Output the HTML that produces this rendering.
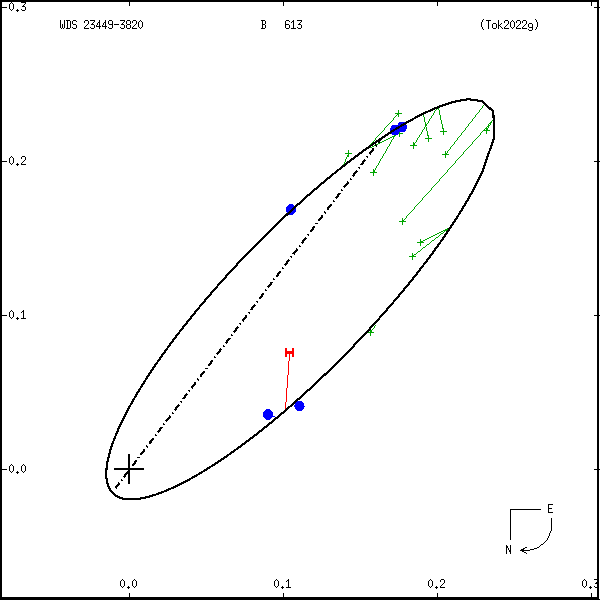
<!DOCTYPE html><html><head><meta charset="utf-8"><title>orbit</title><style>html,body{margin:0;padding:0;background:#fff;font-family:"Liberation Sans",sans-serif}svg{display:block}</style></head><body>
<svg width="600" height="600" viewBox="0 0 600 600" shape-rendering="crispEdges">
<rect width="600" height="600" fill="#fff"/>
<path d="M484 104h1v1h-1zM483 105h1v1h-1zM482 106h1v1h-1zM437 107h2v1h-2zM482 107h1v1h-1zM436 108h1v1h-1zM438 108h1v1h-1zM481 108h1v1h-1zM436 109h1v1h-1zM438 109h1v1h-1zM480 109h1v1h-1zM398 110h1v1h-1zM435 110h1v1h-1zM439 110h1v1h-1zM479 110h1v1h-1zM398 111h1v1h-1zM434 111h1v1h-1zM439 111h1v1h-1zM479 111h1v1h-1zM398 112h1v1h-1zM434 112h1v1h-1zM439 112h1v1h-1zM478 112h1v1h-1zM395 113h7v1h-7zM433 113h1v1h-1zM439 113h1v1h-1zM477 113h1v1h-1zM397 114h2v1h-2zM423 114h1v1h-1zM433 114h1v1h-1zM439 114h1v1h-1zM476 114h1v1h-1zM396 115h1v1h-1zM398 115h1v1h-1zM423 115h1v1h-1zM432 115h1v1h-1zM440 115h1v1h-1zM475 115h1v1h-1zM395 116h1v1h-1zM398 116h1v1h-1zM423 116h1v1h-1zM431 116h1v1h-1zM440 116h1v1h-1zM475 116h1v1h-1zM394 117h1v1h-1zM424 117h1v1h-1zM431 117h1v1h-1zM440 117h1v1h-1zM474 117h1v1h-1zM393 118h1v1h-1zM424 118h1v1h-1zM430 118h1v1h-1zM440 118h1v1h-1zM473 118h1v1h-1zM393 119h1v1h-1zM424 119h1v1h-1zM429 119h1v1h-1zM440 119h1v1h-1zM472 119h1v1h-1zM392 120h1v1h-1zM424 120h1v1h-1zM429 120h1v1h-1zM441 120h1v1h-1zM472 120h1v1h-1zM492 120h1v1h-1zM391 121h1v1h-1zM424 121h1v1h-1zM428 121h1v1h-1zM441 121h1v1h-1zM471 121h1v1h-1zM491 121h1v1h-1zM390 122h1v1h-1zM425 122h1v1h-1zM428 122h1v1h-1zM441 122h1v1h-1zM470 122h1v1h-1zM490 122h2v1h-2zM389 123h1v1h-1zM425 123h1v1h-1zM427 123h1v1h-1zM441 123h1v1h-1zM469 123h1v1h-1zM489 123h2v1h-2zM388 124h1v1h-1zM425 124h2v1h-2zM442 124h1v1h-1zM468 124h1v1h-1zM488 124h1v1h-1zM490 124h1v1h-1zM387 125h1v1h-1zM425 125h2v1h-2zM442 125h1v1h-1zM468 125h1v1h-1zM488 125h2v1h-2zM386 126h1v1h-1zM425 126h1v1h-1zM442 126h1v1h-1zM467 126h1v1h-1zM487 126h2v1h-2zM385 127h1v1h-1zM424 127h1v1h-1zM426 127h1v1h-1zM442 127h1v1h-1zM466 127h1v1h-1zM486 127h1v1h-1zM488 127h1v1h-1zM384 128h1v1h-1zM424 128h1v1h-1zM426 128h1v1h-1zM442 128h2v1h-2zM465 128h1v1h-1zM485 128h3v1h-3zM384 129h1v1h-1zM423 129h1v1h-1zM426 129h1v1h-1zM443 129h1v1h-1zM465 129h1v1h-1zM484 129h1v1h-1zM486 129h2v1h-2zM383 130h1v1h-1zM399 130h1v1h-1zM422 130h1v1h-1zM426 130h1v1h-1zM443 130h1v1h-1zM464 130h1v1h-1zM483 130h7v1h-7zM382 131h1v1h-1zM399 131h1v1h-1zM422 131h1v1h-1zM427 131h1v1h-1zM440 131h7v1h-7zM463 131h1v1h-1zM482 131h1v1h-1zM486 131h1v1h-1zM381 132h1v1h-1zM396 132h1v1h-1zM399 132h1v1h-1zM421 132h1v1h-1zM427 132h1v1h-1zM443 132h1v1h-1zM462 132h1v1h-1zM481 132h1v1h-1zM486 132h1v1h-1zM380 133h1v1h-1zM395 133h8v1h-8zM421 133h1v1h-1zM427 133h1v1h-1zM443 133h1v1h-1zM461 133h1v1h-1zM480 133h1v1h-1zM486 133h1v1h-1zM379 134h1v1h-1zM395 134h3v1h-3zM399 134h1v1h-1zM420 134h1v1h-1zM427 134h1v1h-1zM443 134h1v1h-1zM461 134h1v1h-1zM480 134h1v1h-1zM378 135h1v1h-1zM394 135h2v1h-2zM399 135h1v1h-1zM419 135h1v1h-1zM427 135h2v1h-2zM460 135h1v1h-1zM479 135h1v1h-1zM377 136h1v1h-1zM392 136h3v1h-3zM399 136h1v1h-1zM419 136h1v1h-1zM428 136h1v1h-1zM459 136h1v1h-1zM478 136h1v1h-1zM376 137h1v1h-1zM390 137h2v1h-2zM393 137h1v1h-1zM418 137h1v1h-1zM428 137h1v1h-1zM458 137h1v1h-1zM477 137h1v1h-1zM375 138h1v1h-1zM388 138h2v1h-2zM393 138h1v1h-1zM417 138h1v1h-1zM425 138h7v1h-7zM457 138h1v1h-1zM476 138h1v1h-1zM375 139h1v1h-1zM386 139h2v1h-2zM392 139h1v1h-1zM417 139h1v1h-1zM428 139h1v1h-1zM457 139h1v1h-1zM475 139h1v1h-1zM374 140h1v1h-1zM384 140h2v1h-2zM391 140h1v1h-1zM416 140h1v1h-1zM428 140h1v1h-1zM456 140h1v1h-1zM474 140h1v1h-1zM373 141h1v1h-1zM382 141h2v1h-2zM391 141h1v1h-1zM416 141h1v1h-1zM428 141h1v1h-1zM455 141h1v1h-1zM473 141h1v1h-1zM372 142h1v1h-1zM380 142h2v1h-2zM390 142h1v1h-1zM413 142h1v1h-1zM415 142h1v1h-1zM454 142h1v1h-1zM472 142h1v1h-1zM371 143h1v1h-1zM378 143h2v1h-2zM390 143h1v1h-1zM413 143h2v1h-2zM454 143h1v1h-1zM472 143h1v1h-1zM370 144h1v1h-1zM376 144h2v1h-2zM389 144h1v1h-1zM413 144h2v1h-2zM453 144h1v1h-1zM471 144h1v1h-1zM374 145h2v1h-2zM389 145h1v1h-1zM410 145h7v1h-7zM452 145h1v1h-1zM470 145h1v1h-1zM372 146h2v1h-2zM388 146h1v1h-1zM413 146h1v1h-1zM451 146h1v1h-1zM469 146h1v1h-1zM370 147h2v1h-2zM387 147h1v1h-1zM413 147h1v1h-1zM450 147h1v1h-1zM468 147h1v1h-1zM387 148h1v1h-1zM413 148h1v1h-1zM450 148h1v1h-1zM467 148h1v1h-1zM386 149h1v1h-1zM449 149h1v1h-1zM466 149h1v1h-1zM348 150h1v1h-1zM386 150h1v1h-1zM448 150h1v1h-1zM465 150h1v1h-1zM348 151h1v1h-1zM385 151h1v1h-1zM445 151h1v1h-1zM447 151h1v1h-1zM464 151h1v1h-1zM348 152h1v1h-1zM385 152h1v1h-1zM445 152h1v1h-1zM447 152h1v1h-1zM463 152h1v1h-1zM345 153h7v1h-7zM384 153h1v1h-1zM445 153h2v1h-2zM463 153h1v1h-1zM348 154h1v1h-1zM383 154h1v1h-1zM442 154h7v1h-7zM462 154h1v1h-1zM347 155h2v1h-2zM383 155h1v1h-1zM445 155h1v1h-1zM461 155h1v1h-1zM347 156h2v1h-2zM382 156h1v1h-1zM445 156h1v1h-1zM460 156h1v1h-1zM346 157h1v1h-1zM382 157h1v1h-1zM445 157h1v1h-1zM459 157h1v1h-1zM346 158h1v1h-1zM381 158h1v1h-1zM458 158h1v1h-1zM345 159h1v1h-1zM380 159h1v1h-1zM457 159h1v1h-1zM345 160h1v1h-1zM380 160h1v1h-1zM456 160h1v1h-1zM345 161h1v1h-1zM379 161h1v1h-1zM455 161h1v1h-1zM344 162h1v1h-1zM379 162h1v1h-1zM455 162h1v1h-1zM344 163h1v1h-1zM378 163h1v1h-1zM454 163h1v1h-1zM343 164h1v1h-1zM378 164h1v1h-1zM453 164h1v1h-1zM343 165h1v1h-1zM377 165h1v1h-1zM452 165h1v1h-1zM376 166h1v1h-1zM451 166h1v1h-1zM376 167h1v1h-1zM450 167h1v1h-1zM375 168h1v1h-1zM449 168h1v1h-1zM373 169h1v1h-1zM375 169h1v1h-1zM448 169h1v1h-1zM373 170h2v1h-2zM447 170h1v1h-1zM373 171h2v1h-2zM447 171h1v1h-1zM370 172h7v1h-7zM446 172h1v1h-1zM373 173h1v1h-1zM445 173h1v1h-1zM373 174h1v1h-1zM444 174h1v1h-1zM373 175h1v1h-1zM443 175h1v1h-1zM442 176h1v1h-1zM441 177h1v1h-1zM440 178h1v1h-1zM439 179h1v1h-1zM439 180h1v1h-1zM438 181h1v1h-1zM437 182h1v1h-1zM436 183h1v1h-1zM435 184h1v1h-1zM434 185h1v1h-1zM433 186h1v1h-1zM432 187h1v1h-1zM431 188h1v1h-1zM431 189h1v1h-1zM430 190h1v1h-1zM429 191h1v1h-1zM428 192h1v1h-1zM427 193h1v1h-1zM426 194h1v1h-1zM425 195h1v1h-1zM424 196h1v1h-1zM423 197h1v1h-1zM422 198h1v1h-1zM422 199h1v1h-1zM421 200h1v1h-1zM420 201h1v1h-1zM419 202h1v1h-1zM418 203h1v1h-1zM417 204h1v1h-1zM416 205h1v1h-1zM415 206h1v1h-1zM414 207h1v1h-1zM414 208h1v1h-1zM413 209h1v1h-1zM412 210h1v1h-1zM411 211h1v1h-1zM410 212h1v1h-1zM409 213h1v1h-1zM408 214h1v1h-1zM407 215h1v1h-1zM406 216h1v1h-1zM406 217h1v1h-1zM402 218h1v1h-1zM405 218h1v1h-1zM402 219h1v1h-1zM404 219h1v1h-1zM402 220h2v1h-2zM399 221h7v1h-7zM402 222h1v1h-1zM402 223h1v1h-1zM402 224h1v1h-1zM447 228h2v1h-2zM445 229h3v1h-3zM443 230h4v1h-4zM441 231h2v1h-2zM444 231h1v1h-1zM439 232h2v1h-2zM443 232h1v1h-1zM437 233h2v1h-2zM441 233h2v1h-2zM435 234h2v1h-2zM440 234h1v1h-1zM433 235h2v1h-2zM439 235h1v1h-1zM431 236h2v1h-2zM438 236h1v1h-1zM429 237h2v1h-2zM436 237h2v1h-2zM427 238h2v1h-2zM435 238h1v1h-1zM420 239h1v1h-1zM425 239h2v1h-2zM434 239h1v1h-1zM420 240h1v1h-1zM423 240h2v1h-2zM432 240h2v1h-2zM420 241h3v1h-3zM431 241h1v1h-1zM417 242h7v1h-7zM430 242h1v1h-1zM420 243h1v1h-1zM429 243h1v1h-1zM420 244h1v1h-1zM427 244h2v1h-2zM420 245h1v1h-1zM426 245h1v1h-1zM425 246h1v1h-1zM423 247h2v1h-2zM422 248h1v1h-1zM421 249h1v1h-1zM420 250h1v1h-1zM418 251h2v1h-2zM417 252h1v1h-1zM412 253h1v1h-1zM416 253h1v1h-1zM412 254h1v1h-1zM414 254h2v1h-2zM412 255h2v1h-2zM409 256h7v1h-7zM412 257h1v1h-1zM412 258h1v1h-1zM412 259h1v1h-1zM375 325h1v1h-1zM374 326h1v1h-1zM374 327h1v1h-1zM373 328h1v1h-1zM370 329h1v1h-1zM372 329h1v1h-1zM370 330h2v1h-2zM370 331h2v1h-2zM367 332h7v1h-7zM370 333h1v1h-1zM370 334h1v1h-1zM370 335h1v1h-1z" fill="#00a500"/>
<path d="M289 354h1v1h-1zM289 355h1v1h-1zM289 356h1v1h-1zM289 357h1v1h-1zM289 358h1v1h-1zM289 359h1v1h-1zM289 360h1v1h-1zM288 361h1v1h-1zM288 362h1v1h-1zM288 363h1v1h-1zM288 364h1v1h-1zM288 365h1v1h-1zM288 366h1v1h-1zM288 367h1v1h-1zM288 368h1v1h-1zM288 369h1v1h-1zM288 370h1v1h-1zM288 371h1v1h-1zM288 372h1v1h-1zM288 373h1v1h-1zM288 374h1v1h-1zM287 375h1v1h-1zM287 376h1v1h-1zM287 377h1v1h-1zM287 378h1v1h-1zM287 379h1v1h-1zM287 380h1v1h-1zM287 381h1v1h-1zM287 382h1v1h-1zM287 383h1v1h-1zM287 384h1v1h-1zM287 385h1v1h-1zM287 386h1v1h-1zM287 387h1v1h-1zM286 388h1v1h-1zM286 389h1v1h-1zM286 390h1v1h-1zM286 391h1v1h-1zM286 392h1v1h-1zM286 393h1v1h-1zM286 394h1v1h-1zM286 395h1v1h-1zM286 396h1v1h-1zM286 397h1v1h-1zM286 398h1v1h-1zM286 399h1v1h-1zM286 400h1v1h-1zM286 401h1v1h-1zM285 402h1v1h-1zM285 403h1v1h-1zM285 404h1v1h-1zM285 405h1v1h-1zM285 406h1v1h-1zM285 407h1v1h-1zM285 408h1v1h-1z" fill="#f00"/>
<path d="M285 348h2v9h-2zM292 348h2v9h-2zM287 351h5v3h-5z" fill="#f00"/>
<ellipse cx="291" cy="209.5" rx="5.1" ry="5.45" fill="#00f"/>
<ellipse cx="268" cy="414.5" rx="5.1" ry="5.45" fill="#00f"/>
<ellipse cx="299.5" cy="406" rx="5.1" ry="5.45" fill="#00f"/>
<ellipse cx="395" cy="130" rx="5.1" ry="5.45" fill="#00f"/>
<ellipse cx="402" cy="127" rx="5.1" ry="5.45" fill="#00f"/>
<path d="M273 416h2v1h-2z" fill="#00f"/>
<path d="M482.50 171.36L477.27 182.26L471.32 193.47L464.75 204.91L457.65 216.47L450.10 228.08L442.18 239.64L433.98 251.09L425.57 262.37L417.02 273.42L408.39 284.21L399.73 294.70L391.09 304.85L382.52 314.66L374.06 324.10L365.72 333.17L357.54 341.85L349.54 350.16L341.73 358.10L334.12 365.66L326.73 372.86L319.56 379.71L312.62 386.22L305.89 392.39L299.40 398.25L293.13 403.80L287.07 409.07L281.24 414.05L275.61 418.77L270.20 423.24L264.98 427.46L259.96 431.46L255.13 435.24L250.47 438.82L246.00 442.21L241.69 445.41L237.55 448.44L233.56 451.31L229.72 454.02L226.03 456.58L222.47 459.01L219.05 461.31L215.75 463.48L212.58 465.54L209.52 467.48L206.57 469.33L203.73 471.07L200.99 472.73L198.34 474.29L195.79 475.77L193.33 477.17L190.96 478.50L188.67 479.76L186.45 480.95L184.31 482.08L182.24 483.15L180.25 484.16L178.31 485.12L176.44 486.03L174.63 486.89L172.88 487.70L171.19 488.47L169.54 489.20L167.95 489.89L166.41 490.55L164.92 491.16L163.47 491.75L162.06 492.30L160.70 492.82L159.37 493.31L158.09 493.78L156.84 494.21L155.63 494.63L154.45 495.02L153.30 495.38L152.19 495.72L151.11 496.05L150.05 496.35L149.03 496.64L148.03 496.90L147.06 497.15L146.12 497.38L145.19 497.60L144.30 497.80L143.42 497.98L142.57 498.15L141.74 498.31L140.93 498.46L140.14 498.59L139.37 498.71L138.62 498.82L137.89 498.92L137.17 499.01L136.47 499.09L135.79 499.16L135.12 499.22L134.47 499.26L133.83 499.31L133.21 499.34L132.60 499.36L132.01 499.38L131.42 499.39L130.86 499.39L130.30 499.39L129.76 499.37L129.22 499.36L128.70 499.33L128.19 499.30L127.69 499.26L127.20 499.22L126.72 499.17L126.25 499.12L125.79 499.06L125.34 499.00L124.90 498.93L124.47 498.85L124.04 498.77L123.63 498.69L123.22 498.60L122.82 498.51L122.43 498.41L122.05 498.31L121.67 498.21L121.30 498.10L120.94 497.99L120.58 497.87L120.23 497.75L119.89 497.62L119.56 497.50L119.23 497.37L118.90 497.23L118.58 497.09L118.27 496.95L117.97 496.81L117.67 496.66L117.37 496.51L117.08 496.35L116.80 496.20L116.52 496.04L116.24 495.87L115.97 495.71L115.71 495.54L115.45 495.36L115.19 495.19L114.94 495.01L114.70 494.83L114.46 494.65L114.22 494.46L113.99 494.27L113.76 494.08L113.53 493.88L113.31 493.68L113.10 493.48L112.88 493.28L112.68 493.07L112.47 492.86L112.27 492.65L112.07 492.43L111.88 492.22L111.69 492.00L111.50 491.77L111.32 491.55L111.14 491.32L110.96 491.08L110.79 490.85L110.62 490.61L110.46 490.37L110.29 490.13L110.13 489.88L109.98 489.63L109.83 489.38L109.68 489.12L109.53 488.86L109.39 488.60L109.25 488.33L109.11 488.06L108.98 487.79L108.85 487.52L108.72 487.24L108.60 486.96L108.47 486.67L108.36 486.38L108.24 486.09L108.13 485.80L108.02 485.50L107.91 485.19L107.81 484.89L107.71 484.58L107.62 484.26L107.52 483.95L107.43 483.62L107.34 483.30L107.26 482.97L107.18 482.63L107.10 482.30L107.03 481.95L106.96 481.61L106.89 481.25L106.82 480.90L106.76 480.54L106.70 480.17L106.65 479.80L106.60 479.43L106.55 479.05L106.50 478.66L106.46 478.27L106.43 477.87L106.39 477.47L106.36 477.07L106.34 476.65L106.31 476.24L106.29 475.81L106.28 475.38L106.27 474.94L106.26 474.50L106.26 474.05L106.26 473.59L106.27 473.13L106.28 472.66L106.29 472.18L106.31 471.70L106.33 471.21L106.36 470.71L106.40 470.20L106.43 469.69L106.48 469.16L106.53 468.63L106.58 468.09L106.64 467.54L106.71 466.98L106.78 466.41L106.85 465.83L106.94 465.25L107.03 464.65L107.12 464.04L107.22 463.42L107.33 462.79L107.45 462.15L107.57 461.50L107.70 460.83L107.84 460.15L107.99 459.46L108.14 458.76L108.30 458.04L108.48 457.31L108.66 456.57L108.85 455.81L109.05 455.03L109.25 454.24L109.47 453.44L109.70 452.61L109.95 451.77L110.20 450.92L110.46 450.04L110.74 449.15L111.03 448.23L111.33 447.30L111.65 446.35L111.98 445.37L112.32 444.37L112.68 443.36L113.06 442.31L113.45 441.24L113.86 440.15L114.29 439.03L114.74 437.89L115.21 436.71L115.69 435.51L116.20 434.28L116.73 433.02L117.28 431.72L117.86 430.39L118.46 429.03L119.09 427.63L119.74 426.20L120.43 424.73L121.14 423.21L121.89 421.66L122.66 420.06L123.47 418.42L124.32 416.73L125.20 414.99L126.13 413.21L127.09 411.37L128.10 409.48L129.15 407.53L130.25 405.52L131.41 403.45L132.61 401.32L133.87 399.12L135.18 396.86L136.56 394.52L138.00 392.11L139.50 389.62L141.08 387.05L142.73 384.39L144.46 381.65L146.27 378.82L148.17 375.89L150.16 372.86L152.25 369.73L154.44 366.50L156.73 363.15L159.14 359.68L161.66 356.09L164.31 352.38L167.10 348.54L170.02 344.55L173.09 340.43L176.31 336.17L179.70 331.75L183.26 327.17L186.99 322.43L190.92 317.52L195.05 312.44L199.38 307.18L203.94 301.74L208.72 296.12L213.75 290.30L219.02 284.29L224.56 278.09L230.37 271.69L236.47 265.09L242.85 258.30L249.54 251.32L256.54 244.15L263.85 236.81L271.48 229.30L279.44 221.64L287.72 213.84L296.32 205.92L305.24 197.92L314.46 189.86L323.97 181.78L333.75 173.72L343.77 165.73L353.99 157.86L364.38 150.18L374.89 142.74L385.46 135.63L396.01 128.92L406.49 122.68L416.81 117.01L426.88 111.99L436.60 107.70L445.89 104.23L454.64 101.65L462.76 100.02L468.30 99.20L482.50 101.25L493.30 111.70L494.40 137.00L485.00 164.00Z" fill="none" stroke="#000" stroke-width="2.15" stroke-linejoin="round"/>
<path d="M115.3 488.3L381 139" stroke="#000" stroke-width="2.2" stroke-dasharray="7 2.8 1.5 2.7" fill="none"/>
<path d="M114 468h30v2h-30zM128 454h2v30h-2z" fill="#000"/>
<path d="M0 0h599v2h-599zM0 0h2v600h-2zM597 0h2v600h-2zM0 597h599v2h-599zM0 599h600v1h-600zM2 7h5v1h-5zM594 7h6v1h-6zM2 161h5v1h-5zM594 161h6v1h-6zM2 315h5v1h-5zM594 315h6v1h-6zM2 469h5v1h-5zM594 469h6v1h-6zM129 2h1v4h-1zM129 593h1v4h-1zM283 2h1v4h-1zM283 593h1v4h-1zM437 2h1v4h-1zM437 593h1v4h-1zM591 2h1v4h-1zM591 593h1v4h-1z" fill="#000"/>
<path d="M60 20h1v1h-1zM64 20h1v1h-1zM60 21h1v1h-1zM64 21h1v1h-1zM60 22h1v1h-1zM64 22h1v1h-1zM60 23h1v1h-1zM64 23h1v1h-1zM60 24h1v1h-1zM62 24h1v1h-1zM64 24h1v1h-1zM60 25h1v1h-1zM62 25h1v1h-1zM64 25h1v1h-1zM60 26h1v1h-1zM62 26h1v1h-1zM64 26h1v1h-1zM60 27h1v1h-1zM62 27h1v1h-1zM64 27h1v1h-1zM61 28h1v1h-1zM63 28h1v1h-1zM66 20h4v1h-4zM67 21h1v1h-1zM70 21h1v1h-1zM67 22h1v1h-1zM70 22h1v1h-1zM67 23h1v1h-1zM70 23h1v1h-1zM67 24h1v1h-1zM70 24h1v1h-1zM67 25h1v1h-1zM70 25h1v1h-1zM67 26h1v1h-1zM70 26h1v1h-1zM67 27h1v1h-1zM70 27h1v1h-1zM66 28h4v1h-4zM73 20h3v1h-3zM72 21h1v1h-1zM76 21h1v1h-1zM72 22h1v1h-1zM72 23h1v1h-1zM73 24h3v1h-3zM76 25h1v1h-1zM76 26h1v1h-1zM72 27h1v1h-1zM76 27h1v1h-1zM73 28h3v1h-3zM85 20h3v1h-3zM84 21h1v1h-1zM88 21h1v1h-1zM84 22h1v1h-1zM88 22h1v1h-1zM88 23h1v1h-1zM87 24h1v1h-1zM86 25h1v1h-1zM85 26h1v1h-1zM84 27h1v1h-1zM84 28h5v1h-5zM90 20h5v1h-5zM94 21h1v1h-1zM93 22h1v1h-1zM92 23h1v1h-1zM91 24h3v1h-3zM94 25h1v1h-1zM94 26h1v1h-1zM90 27h1v1h-1zM94 27h1v1h-1zM91 28h3v1h-3zM99 20h1v1h-1zM99 21h1v1h-1zM98 22h2v1h-2zM97 23h1v1h-1zM99 23h1v1h-1zM97 24h1v1h-1zM99 24h1v1h-1zM96 25h1v1h-1zM99 25h1v1h-1zM96 26h5v1h-5zM99 27h1v1h-1zM99 28h1v1h-1zM105 20h1v1h-1zM105 21h1v1h-1zM104 22h2v1h-2zM103 23h1v1h-1zM105 23h1v1h-1zM103 24h1v1h-1zM105 24h1v1h-1zM102 25h1v1h-1zM105 25h1v1h-1zM102 26h5v1h-5zM105 27h1v1h-1zM105 28h1v1h-1zM109 20h3v1h-3zM108 21h1v1h-1zM112 21h1v1h-1zM108 22h1v1h-1zM112 22h1v1h-1zM108 23h1v1h-1zM112 23h1v1h-1zM109 24h4v1h-4zM112 25h1v1h-1zM112 26h1v1h-1zM108 27h1v1h-1zM112 27h1v1h-1zM109 28h3v1h-3zM114 24h5v1h-5zM120 20h5v1h-5zM124 21h1v1h-1zM123 22h1v1h-1zM122 23h1v1h-1zM121 24h3v1h-3zM124 25h1v1h-1zM124 26h1v1h-1zM120 27h1v1h-1zM124 27h1v1h-1zM121 28h3v1h-3zM127 20h3v1h-3zM126 21h1v1h-1zM130 21h1v1h-1zM126 22h1v1h-1zM130 22h1v1h-1zM126 23h1v1h-1zM130 23h1v1h-1zM127 24h3v1h-3zM126 25h1v1h-1zM130 25h1v1h-1zM126 26h1v1h-1zM130 26h1v1h-1zM126 27h1v1h-1zM130 27h1v1h-1zM127 28h3v1h-3zM133 20h3v1h-3zM132 21h1v1h-1zM136 21h1v1h-1zM132 22h1v1h-1zM136 22h1v1h-1zM136 23h1v1h-1zM135 24h1v1h-1zM134 25h1v1h-1zM133 26h1v1h-1zM132 27h1v1h-1zM132 28h5v1h-5zM140 20h1v1h-1zM139 21h1v1h-1zM141 21h1v1h-1zM138 22h1v1h-1zM142 22h1v1h-1zM138 23h1v1h-1zM142 23h1v1h-1zM138 24h1v1h-1zM142 24h1v1h-1zM138 25h1v1h-1zM142 25h1v1h-1zM138 26h1v1h-1zM142 26h1v1h-1zM139 27h1v1h-1zM141 27h1v1h-1zM140 28h1v1h-1zM261 20h4v1h-4zM262 21h1v1h-1zM265 21h1v1h-1zM262 22h1v1h-1zM265 22h1v1h-1zM262 23h1v1h-1zM265 23h1v1h-1zM262 24h3v1h-3zM262 25h1v1h-1zM265 25h1v1h-1zM262 26h1v1h-1zM265 26h1v1h-1zM262 27h1v1h-1zM265 27h1v1h-1zM261 28h4v1h-4zM286 20h3v1h-3zM285 21h1v1h-1zM289 21h1v1h-1zM285 22h1v1h-1zM285 23h1v1h-1zM285 24h4v1h-4zM285 25h1v1h-1zM289 25h1v1h-1zM285 26h1v1h-1zM289 26h1v1h-1zM285 27h1v1h-1zM289 27h1v1h-1zM286 28h3v1h-3zM293 20h1v1h-1zM292 21h2v1h-2zM291 22h1v1h-1zM293 22h1v1h-1zM293 23h1v1h-1zM293 24h1v1h-1zM293 25h1v1h-1zM293 26h1v1h-1zM293 27h1v1h-1zM291 28h5v1h-5zM297 20h5v1h-5zM301 21h1v1h-1zM300 22h1v1h-1zM299 23h1v1h-1zM298 24h3v1h-3zM301 25h1v1h-1zM301 26h1v1h-1zM297 27h1v1h-1zM301 27h1v1h-1zM298 28h3v1h-3zM483 19h1v1h-1zM482 20h1v1h-1zM482 21h1v1h-1zM481 22h1v1h-1zM481 23h1v1h-1zM481 24h1v1h-1zM481 25h1v1h-1zM481 26h1v1h-1zM482 27h1v1h-1zM482 28h1v1h-1zM483 29h1v1h-1zM486 20h5v1h-5zM488 21h1v1h-1zM488 22h1v1h-1zM488 23h1v1h-1zM488 24h1v1h-1zM488 25h1v1h-1zM488 26h1v1h-1zM488 27h1v1h-1zM488 28h1v1h-1zM493 23h3v1h-3zM492 24h1v1h-1zM496 24h1v1h-1zM492 25h1v1h-1zM496 25h1v1h-1zM492 26h1v1h-1zM496 26h1v1h-1zM492 27h1v1h-1zM496 27h1v1h-1zM493 28h3v1h-3zM498 20h1v1h-1zM498 21h1v1h-1zM498 22h1v1h-1zM498 23h1v1h-1zM501 23h1v1h-1zM498 24h1v1h-1zM500 24h1v1h-1zM498 25h2v1h-2zM498 26h1v1h-1zM500 26h1v1h-1zM498 27h1v1h-1zM501 27h1v1h-1zM498 28h1v1h-1zM502 28h1v1h-1zM505 20h3v1h-3zM504 21h1v1h-1zM508 21h1v1h-1zM504 22h1v1h-1zM508 22h1v1h-1zM508 23h1v1h-1zM507 24h1v1h-1zM506 25h1v1h-1zM505 26h1v1h-1zM504 27h1v1h-1zM504 28h5v1h-5zM512 20h1v1h-1zM511 21h1v1h-1zM513 21h1v1h-1zM510 22h1v1h-1zM514 22h1v1h-1zM510 23h1v1h-1zM514 23h1v1h-1zM510 24h1v1h-1zM514 24h1v1h-1zM510 25h1v1h-1zM514 25h1v1h-1zM510 26h1v1h-1zM514 26h1v1h-1zM511 27h1v1h-1zM513 27h1v1h-1zM512 28h1v1h-1zM517 20h3v1h-3zM516 21h1v1h-1zM520 21h1v1h-1zM516 22h1v1h-1zM520 22h1v1h-1zM520 23h1v1h-1zM519 24h1v1h-1zM518 25h1v1h-1zM517 26h1v1h-1zM516 27h1v1h-1zM516 28h5v1h-5zM523 20h3v1h-3zM522 21h1v1h-1zM526 21h1v1h-1zM522 22h1v1h-1zM526 22h1v1h-1zM526 23h1v1h-1zM525 24h1v1h-1zM524 25h1v1h-1zM523 26h1v1h-1zM522 27h1v1h-1zM522 28h5v1h-5zM529 23h3v1h-3zM528 24h1v1h-1zM532 24h1v1h-1zM528 25h1v1h-1zM532 25h1v1h-1zM528 26h1v1h-1zM532 26h1v1h-1zM529 27h4v1h-4zM532 28h1v1h-1zM528 29h1v1h-1zM532 29h1v1h-1zM529 30h3v1h-3zM535 19h1v1h-1zM536 20h1v1h-1zM536 21h1v1h-1zM537 22h1v1h-1zM537 23h1v1h-1zM537 24h1v1h-1zM537 25h1v1h-1zM537 26h1v1h-1zM536 27h1v1h-1zM536 28h1v1h-1zM535 29h1v1h-1zM11 2h1v1h-1zM10 3h1v1h-1zM12 3h1v1h-1zM9 4h1v1h-1zM13 4h1v1h-1zM9 5h1v1h-1zM13 5h1v1h-1zM9 6h1v1h-1zM13 6h1v1h-1zM9 7h1v1h-1zM13 7h1v1h-1zM9 8h1v1h-1zM13 8h1v1h-1zM10 9h1v1h-1zM12 9h1v1h-1zM11 10h1v1h-1zM17 9h1v1h-1zM16 10h3v1h-3zM17 11h1v1h-1zM21 2h5v1h-5zM25 3h1v1h-1zM24 4h1v1h-1zM23 5h1v1h-1zM22 6h3v1h-3zM25 7h1v1h-1zM25 8h1v1h-1zM21 9h1v1h-1zM25 9h1v1h-1zM22 10h3v1h-3zM11 156h1v1h-1zM10 157h1v1h-1zM12 157h1v1h-1zM9 158h1v1h-1zM13 158h1v1h-1zM9 159h1v1h-1zM13 159h1v1h-1zM9 160h1v1h-1zM13 160h1v1h-1zM9 161h1v1h-1zM13 161h1v1h-1zM9 162h1v1h-1zM13 162h1v1h-1zM10 163h1v1h-1zM12 163h1v1h-1zM11 164h1v1h-1zM17 163h1v1h-1zM16 164h3v1h-3zM17 165h1v1h-1zM22 156h3v1h-3zM21 157h1v1h-1zM25 157h1v1h-1zM21 158h1v1h-1zM25 158h1v1h-1zM25 159h1v1h-1zM24 160h1v1h-1zM23 161h1v1h-1zM22 162h1v1h-1zM21 163h1v1h-1zM21 164h5v1h-5zM11 310h1v1h-1zM10 311h1v1h-1zM12 311h1v1h-1zM9 312h1v1h-1zM13 312h1v1h-1zM9 313h1v1h-1zM13 313h1v1h-1zM9 314h1v1h-1zM13 314h1v1h-1zM9 315h1v1h-1zM13 315h1v1h-1zM9 316h1v1h-1zM13 316h1v1h-1zM10 317h1v1h-1zM12 317h1v1h-1zM11 318h1v1h-1zM17 317h1v1h-1zM16 318h3v1h-3zM17 319h1v1h-1zM23 310h1v1h-1zM22 311h2v1h-2zM21 312h1v1h-1zM23 312h1v1h-1zM23 313h1v1h-1zM23 314h1v1h-1zM23 315h1v1h-1zM23 316h1v1h-1zM23 317h1v1h-1zM21 318h5v1h-5zM11 464h1v1h-1zM10 465h1v1h-1zM12 465h1v1h-1zM9 466h1v1h-1zM13 466h1v1h-1zM9 467h1v1h-1zM13 467h1v1h-1zM9 468h1v1h-1zM13 468h1v1h-1zM9 469h1v1h-1zM13 469h1v1h-1zM9 470h1v1h-1zM13 470h1v1h-1zM10 471h1v1h-1zM12 471h1v1h-1zM11 472h1v1h-1zM17 471h1v1h-1zM16 472h3v1h-3zM17 473h1v1h-1zM23 464h1v1h-1zM22 465h1v1h-1zM24 465h1v1h-1zM21 466h1v1h-1zM25 466h1v1h-1zM21 467h1v1h-1zM25 467h1v1h-1zM21 468h1v1h-1zM25 468h1v1h-1zM21 469h1v1h-1zM25 469h1v1h-1zM21 470h1v1h-1zM25 470h1v1h-1zM22 471h1v1h-1zM24 471h1v1h-1zM23 472h1v1h-1zM122 579h1v1h-1zM121 580h1v1h-1zM123 580h1v1h-1zM120 581h1v1h-1zM124 581h1v1h-1zM120 582h1v1h-1zM124 582h1v1h-1zM120 583h1v1h-1zM124 583h1v1h-1zM120 584h1v1h-1zM124 584h1v1h-1zM120 585h1v1h-1zM124 585h1v1h-1zM121 586h1v1h-1zM123 586h1v1h-1zM122 587h1v1h-1zM128 586h1v1h-1zM127 587h3v1h-3zM128 588h1v1h-1zM134 579h1v1h-1zM133 580h1v1h-1zM135 580h1v1h-1zM132 581h1v1h-1zM136 581h1v1h-1zM132 582h1v1h-1zM136 582h1v1h-1zM132 583h1v1h-1zM136 583h1v1h-1zM132 584h1v1h-1zM136 584h1v1h-1zM132 585h1v1h-1zM136 585h1v1h-1zM133 586h1v1h-1zM135 586h1v1h-1zM134 587h1v1h-1zM276 579h1v1h-1zM275 580h1v1h-1zM277 580h1v1h-1zM274 581h1v1h-1zM278 581h1v1h-1zM274 582h1v1h-1zM278 582h1v1h-1zM274 583h1v1h-1zM278 583h1v1h-1zM274 584h1v1h-1zM278 584h1v1h-1zM274 585h1v1h-1zM278 585h1v1h-1zM275 586h1v1h-1zM277 586h1v1h-1zM276 587h1v1h-1zM282 586h1v1h-1zM281 587h3v1h-3zM282 588h1v1h-1zM288 579h1v1h-1zM287 580h2v1h-2zM286 581h1v1h-1zM288 581h1v1h-1zM288 582h1v1h-1zM288 583h1v1h-1zM288 584h1v1h-1zM288 585h1v1h-1zM288 586h1v1h-1zM286 587h5v1h-5zM430 579h1v1h-1zM429 580h1v1h-1zM431 580h1v1h-1zM428 581h1v1h-1zM432 581h1v1h-1zM428 582h1v1h-1zM432 582h1v1h-1zM428 583h1v1h-1zM432 583h1v1h-1zM428 584h1v1h-1zM432 584h1v1h-1zM428 585h1v1h-1zM432 585h1v1h-1zM429 586h1v1h-1zM431 586h1v1h-1zM430 587h1v1h-1zM436 586h1v1h-1zM435 587h3v1h-3zM436 588h1v1h-1zM441 579h3v1h-3zM440 580h1v1h-1zM444 580h1v1h-1zM440 581h1v1h-1zM444 581h1v1h-1zM444 582h1v1h-1zM443 583h1v1h-1zM442 584h1v1h-1zM441 585h1v1h-1zM440 586h1v1h-1zM440 587h5v1h-5zM584 579h1v1h-1zM583 580h1v1h-1zM585 580h1v1h-1zM582 581h1v1h-1zM586 581h1v1h-1zM582 582h1v1h-1zM586 582h1v1h-1zM582 583h1v1h-1zM586 583h1v1h-1zM582 584h1v1h-1zM586 584h1v1h-1zM582 585h1v1h-1zM586 585h1v1h-1zM583 586h1v1h-1zM585 586h1v1h-1zM584 587h1v1h-1zM590 586h1v1h-1zM589 587h3v1h-3zM590 588h1v1h-1zM594 579h5v1h-5zM598 580h1v1h-1zM597 581h1v1h-1zM596 582h1v1h-1zM595 583h3v1h-3zM598 584h1v1h-1zM598 585h1v1h-1zM594 586h1v1h-1zM598 586h1v1h-1zM595 587h3v1h-3zM548 504h5v1h-5zM548 505h1v1h-1zM548 506h1v1h-1zM548 507h1v1h-1zM548 508h4v1h-4zM548 509h1v1h-1zM548 510h1v1h-1zM548 511h1v1h-1zM548 512h5v1h-5zM506 545h1v1h-1zM510 545h1v1h-1zM506 546h2v1h-2zM510 546h1v1h-1zM506 547h2v1h-2zM510 547h1v1h-1zM506 548h1v1h-1zM508 548h1v1h-1zM510 548h1v1h-1zM506 549h1v1h-1zM508 549h1v1h-1zM510 549h1v1h-1zM506 550h1v1h-1zM509 550h2v1h-2zM506 551h1v1h-1zM509 551h2v1h-2zM506 552h1v1h-1zM510 552h1v1h-1zM506 553h1v1h-1zM510 553h1v1h-1z" fill="#000"/>
<path d="M510 509h31v1h-31zM510 509h1v31h-1z" fill="#000"/>
<path d="M551 518h1v1h-1zM551 519h1v1h-1zM551 520h1v1h-1zM551 521h1v1h-1zM551 522h1v1h-1zM551 523h1v1h-1zM551 524h1v1h-1zM551 525h1v1h-1zM551 526h1v1h-1zM551 527h1v1h-1zM551 528h1v1h-1zM551 529h1v1h-1zM551 530h1v1h-1zM550 531h1v1h-1zM550 532h1v1h-1zM549 533h1v1h-1zM549 534h1v1h-1zM549 535h1v1h-1zM548 536h1v1h-1zM548 537h1v1h-1zM547 538h1v1h-1zM547 539h1v1h-1zM546 540h1v1h-1zM545 541h1v1h-1zM544 542h1v1h-1zM543 543h1v1h-1zM541 544h2v1h-2zM540 545h1v1h-1zM539 546h1v1h-1zM525 547h2v1h-2zM537 547h2v1h-2zM523 548h2v1h-2zM534 548h3v1h-3zM521 549h3v1h-3zM530 549h4v1h-4zM520 550h10v1h-10zM522 551h2v1h-2zM524 552h2v1h-2zM526 553h1v1h-1z" fill="#000"/>
</svg></body></html>
